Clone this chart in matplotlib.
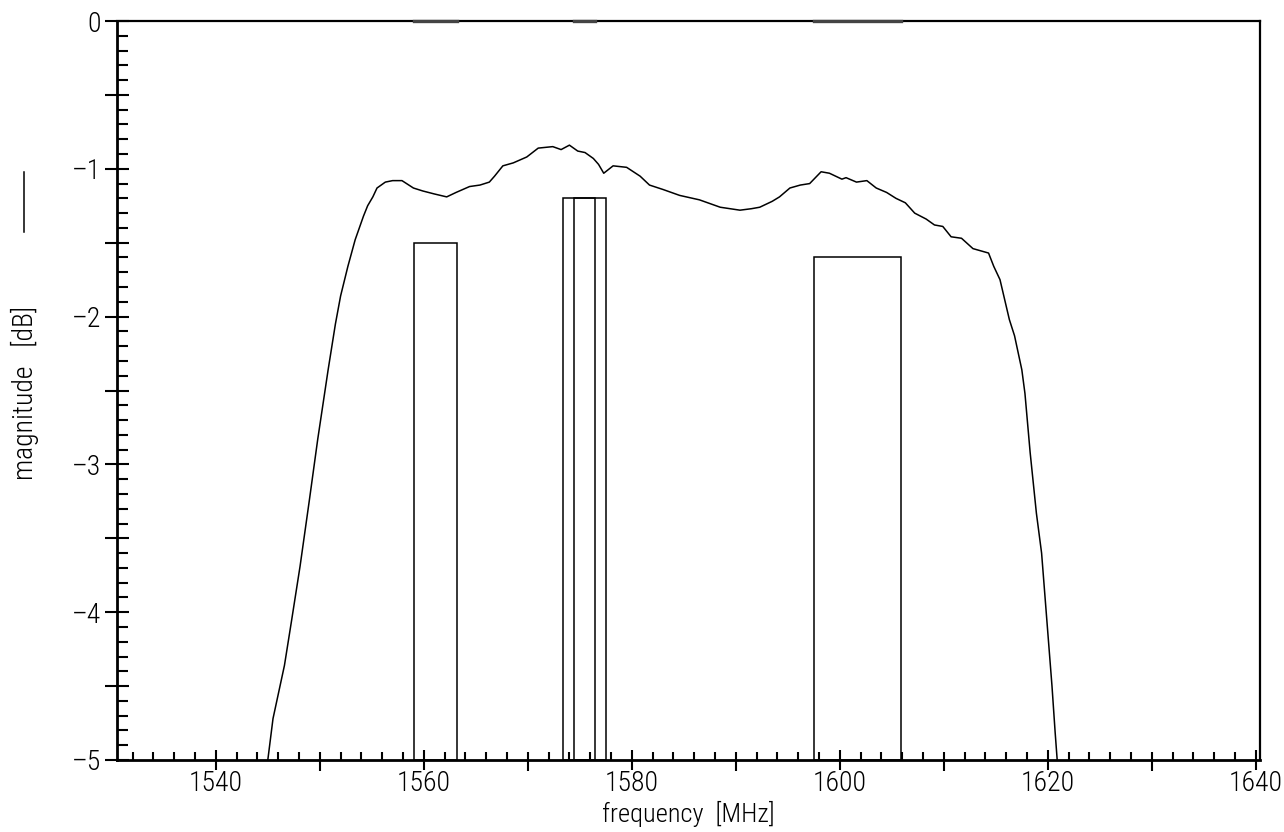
import matplotlib
matplotlib.use("Agg")
import matplotlib.pyplot as plt
import matplotlib.font_manager as fm
from matplotlib.ticker import MultipleLocator, FuncFormatter
from matplotlib.lines import Line2D
import numpy as np

# measured filter response
freq_mhz = [1545.0, 1545.5, 1546.6, 1547.3, 1548.1, 1549.0, 1549.8, 1550.8, 1551.5, 1552.0,
            1552.7, 1553.4, 1554.2, 1554.6, 1555.1, 1555.5, 1556.3, 1557.0, 1557.9, 1559.0,
            1559.9, 1561.0, 1562.2, 1563.1, 1564.4, 1565.4, 1566.3, 1566.8, 1567.6, 1568.6,
            1569.9, 1571.0, 1572.4, 1573.2, 1574.0, 1574.8, 1575.5, 1576.3, 1576.8, 1577.3,
            1578.2, 1579.5, 1580.8, 1581.7, 1583.0, 1584.6, 1586.5, 1588.5, 1590.4, 1591.5,
            1592.3, 1593.5, 1594.2, 1595.2, 1596.2, 1597.1, 1598.2, 1599.0, 1600.2, 1600.6,
            1601.6, 1602.6, 1603.5, 1604.5, 1605.4, 1606.3, 1607.2, 1608.3, 1609.1, 1609.9,
            1610.7, 1611.7, 1612.8, 1613.8, 1614.3, 1614.8, 1615.4, 1616.3, 1616.8, 1617.5,
            1617.8, 1618.3, 1618.9, 1619.4, 1619.9, 1620.4, 1620.7, 1620.9]
mag_db = [-5.0, -4.72, -4.36, -4.05, -3.69, -3.24, -2.83, -2.36, -2.05, -1.86,
          -1.66, -1.48, -1.32, -1.25, -1.19, -1.13, -1.09, -1.08, -1.08, -1.13,
          -1.15, -1.17, -1.19, -1.16, -1.12, -1.11, -1.09, -1.05, -0.98, -0.96,
          -0.92, -0.86, -0.85, -0.87, -0.84, -0.88, -0.89, -0.93, -0.97, -1.03,
          -0.98, -0.99, -1.05, -1.11, -1.14, -1.18, -1.21, -1.26, -1.28, -1.27,
          -1.26, -1.22, -1.19, -1.13, -1.11, -1.10, -1.02, -1.03, -1.07, -1.06,
          -1.09, -1.08, -1.13, -1.16, -1.20, -1.23, -1.30, -1.34, -1.38, -1.39,
          -1.46, -1.47, -1.54, -1.56, -1.57, -1.66, -1.75, -2.02, -2.13, -2.36,
          -2.52, -2.92, -3.33, -3.60, -4.05, -4.50, -4.81, -5.0]

# signal bands (BeiDou B1, GPS L1 wide/narrow, GLONASS L1)
band_lo = [1559.05, 1573.37, 1574.40, 1597.55]
band_hi = [1563.15, 1577.47, 1576.44, 1605.89]
band_level = [-1.5, -1.2, -1.2, -1.6]
band_mark = [True, False, True, True]

XLIM = (1530.5, 1640.4)
YLIM = (-5, 0)

# pick a narrow sans if one is installed
fonts = fm.fontManager.ttflist
names = {f.name for f in fonts}
FONT, FS = "DejaVu Sans", 16
for cand in ["Liberation Sans Narrow", "Arial Narrow", "Roboto Condensed",
             "Open Sans Condensed", "Noto Sans Condensed"]:
    if cand in names:
        FONT, FS = cand, 20
        break
WEIGHT = "light" if any(f.name == FONT and f.weight in (300, "light") for f in fonts) else "normal"

plt.rcParams.update({"font.family": FONT, "font.size": FS, "font.weight": WEIGHT})

fig = plt.figure(figsize=(12.84, 8.32), dpi=100)
ax = fig.add_axes([117 / 1284, 1 - 760 / 832, (1260 - 117) / 1284, (760 - 21) / 832])

ax.plot(freq_mhz, mag_db, color="black", linewidth=1.1, zorder=3)

base = YLIM[0]
heights = [lv - base for lv in band_level]
widths = [h - l for l, h in zip(band_lo, band_hi)]
ax.bar(band_lo, heights, width=widths, bottom=base, align="edge",
       fill=False, edgecolor="black", linewidth=1.1, zorder=2)
# band markers on the 0 dB line
for l, h, m in zip(band_lo, band_hi, band_mark):
    if m:
        ax.plot([l, h], [0, 0], color="#444444", linewidth=2.4, clip_on=False, zorder=5)

ax.set_xlim(*XLIM)
ax.set_ylim(*YLIM)

for s in ["left", "bottom"]:
    ax.spines[s].set_linewidth(2.0)
for s in ["top", "right"]:
    ax.spines[s].set_linewidth(1.6)

# x ticks
ax.xaxis.set_major_locator(MultipleLocator(20))
ax.xaxis.set_minor_locator(MultipleLocator(2))
ax.tick_params(axis="x", which="major", direction="inout", length=14, width=1.5, pad=0)
ax.tick_params(axis="x", which="minor", direction="in", length=6, width=1.5)
sec = ax.secondary_xaxis("bottom")
sec.set_xticks(np.arange(1550, 1640, 20))
sec.set_xticklabels([])
sec.tick_params(direction="out", length=8, width=1.5)
sec.spines["bottom"].set_visible(False)

# y ticks
ax.yaxis.set_major_locator(MultipleLocator(0.5))
ax.yaxis.set_minor_locator(MultipleLocator(0.1))
ax.yaxis.set_major_formatter(FuncFormatter(
    lambda v, p: (f"{int(round(v))}".replace("-", "\u2013")) if abs(v - round(v)) < 1e-6 else ""))
ax.tick_params(axis="y", which="major", direction="inout", length=17, width=1.5, pad=3)
ax.tick_params(axis="y", which="minor", direction="in", length=8, width=1.5)

fig.text(688 / 1284, 1 - 814 / 832, "frequency  [MHz]", ha="center", va="center", fontsize=FS - 1)
fig.text(25 / 1284, 1 - 393 / 832, "magnitude   [dB]", ha="center", va="center",
         rotation=90, fontsize=FS)
fig.add_artist(Line2D([24 / 1284, 24 / 1284], [1 - 172 / 832, 1 - 232 / 832],
                      color="black", linewidth=1.1, transform=fig.transFigure))

fig.savefig("out.png", dpi=100, facecolor="white")
